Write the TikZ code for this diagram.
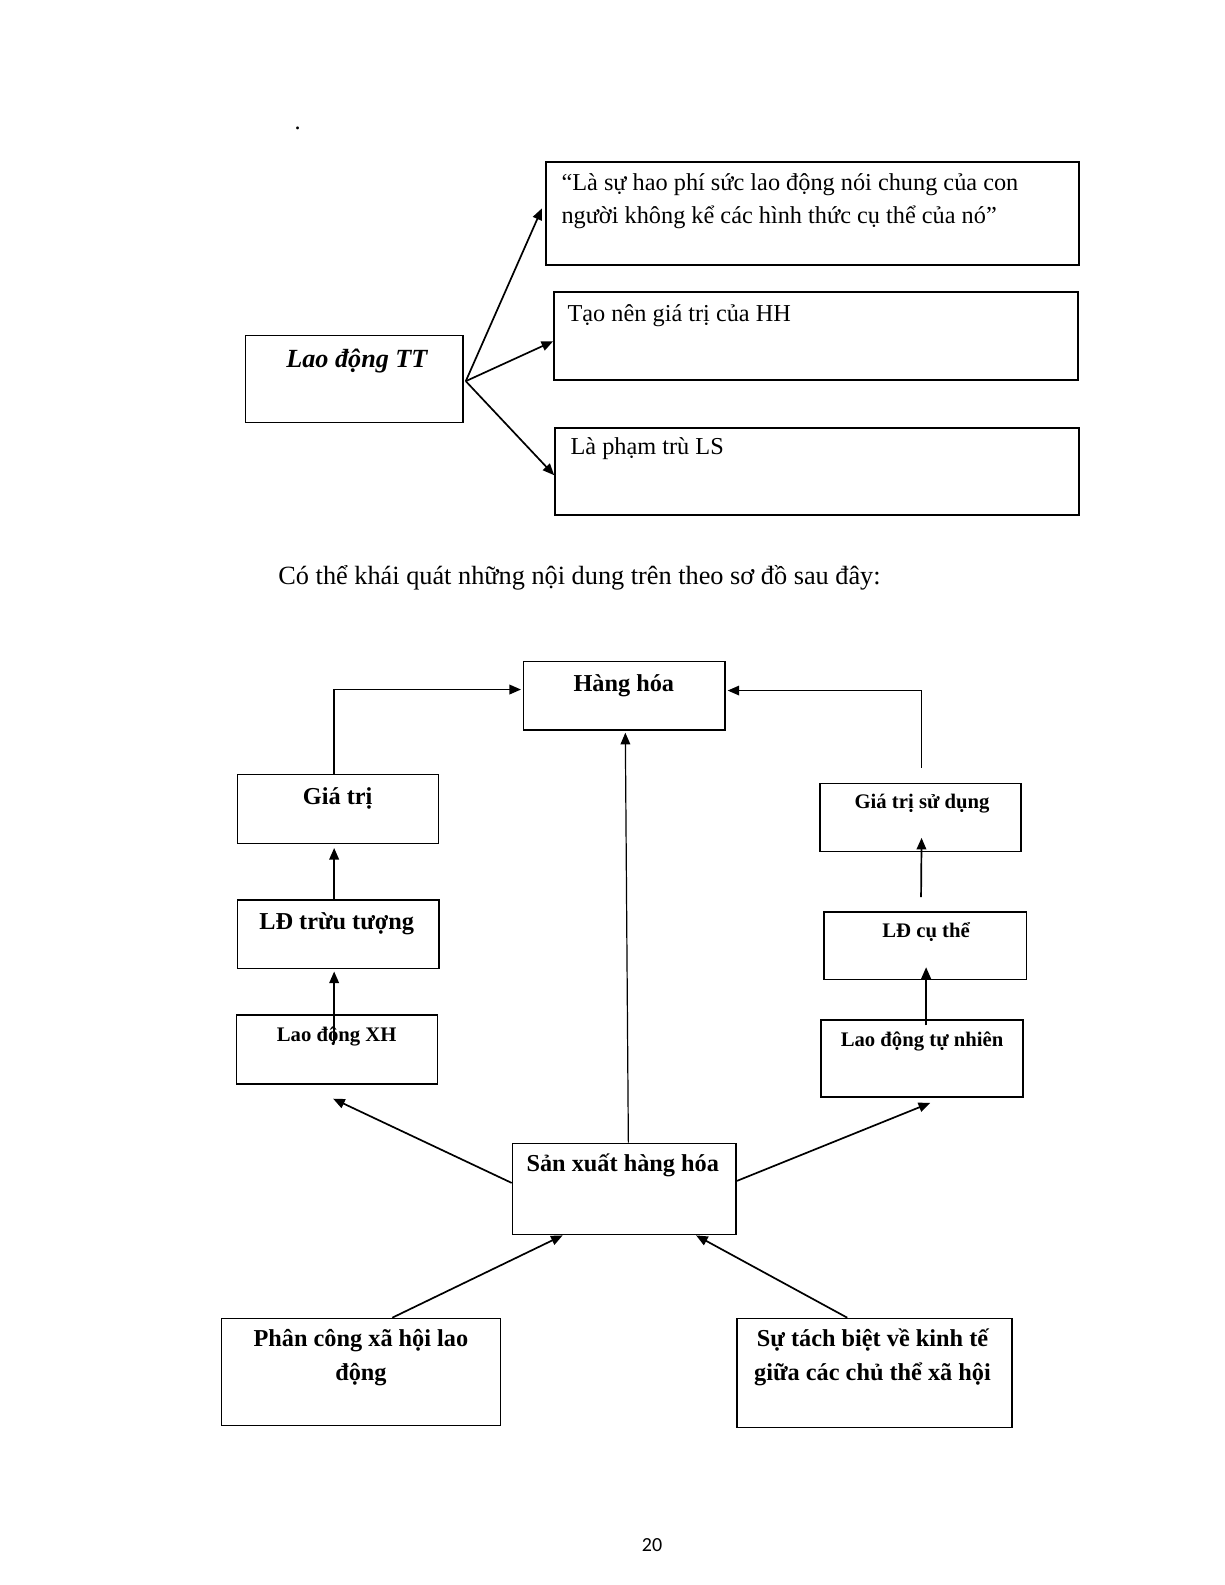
\documentclass[tikz,border=0pt]{standalone}
\usepackage{fontspec}
\setmainfont{Liberation Serif}
\newfontfamily\pagefont{Carlito}
\usetikzlibrary{arrows.meta,fit,calc}
\begin{document}
\begin{tikzpicture}[x=0.5056pt,y=-0.5056pt,
  box/.style={draw, line width=0.7pt, inner sep=0pt},
  tbox/.style={draw, line width=0.9pt, inner sep=0pt},
  arr/.style={-{Triangle[length=5.8pt,width=4.8pt]}, line width=0.85pt},
  tl/.style={font=\fontsize{12.15}{14}\selectfont, anchor=base west, inner sep=0pt},
  bt/.style={font=\bfseries\fontsize{12.15}{14}\selectfont, anchor=base, inner sep=0pt},
  bs/.style={font=\bfseries\fontsize{10.35}{12}\selectfont, anchor=base, inner sep=0pt}]
\useasboundingbox (0,0) rectangle (1211.6,1567.7);
% ---------- top part ----------
\node[tl] (dot) at (291,128) {.};
\node[tbox, fit={(540,160) (1067,262)}] (b1) {};
\node[tbox, fit={(548,289) (1066,376)}] (b2) {};
\node[tbox, fit={(549,423) (1067,509)}] (b3) {};
\node[box, fit={(243,332) (458,418)}] (ldtt) {};
\node[tl] (b1a) at (555,188) {“Là sự hao phí sức lao động nói chung của con};
\node[tl] (b1b) at (555,221) {người không kể các hình thức cụ thể của nó”};
\node[tl] (b2t) at (561,318) {Tạo nên giá trị của HH};
\node[tl] (b3t) at (564,450) {Là phạm trù LS};
\node[font=\bfseries\itshape\fontsize{13.1}{15}\selectfont, anchor=base, inner sep=0pt] (ldttt) at (353,363) {Lao động TT};
\coordinate (o) at ($(ldtt.east)+(2,2)$);
\coordinate (t1) at ($(b1.west)+(-3,-5)$);
\coordinate (t2) at ($(b2.west)+(0,5)$);
\coordinate (t3) at ($(b3.west)+(0,4)$);
\draw[arr] (o) -- (t1);
\draw[arr] (o) -- (t2);
\draw[arr] (o) -- (t3);
\node[font=\fontsize{13.15}{15}\selectfont, anchor=base west, inner sep=0pt] (intro) at (275,578) {Có thể khái quát những nội dung trên theo sơ đồ sau đây:};
% ---------- bottom diagram ----------
\node[box, fit={(518,654) (717,722)}] (hh) {};
\node[box, fit={(235,766) (434,834)}] (gt) {};
\node[tbox, fit={(235,890) (434,958)}] (ldtr) {};
\node[box, fit={(234,1004) (433,1072)}] (ldxh) {};
\node[box, fit={(811,775) (1010,842)}] (gtsd) {};
\node[box, fit={(815,902) (1015,969)}] (ldct) {};
\node[tbox, fit={(812,1009) (1012,1085)}] (ldtn) {};
\node[tbox, fit={(507,1131) (728,1221)}] (sx) {};
\node[box, fit={(219,1304) (495,1410)}] (pc) {};
\node[box, fit={(729,1304) (1001,1412)}] (stb) {};
\node[bt] at (617,684) {Hàng hóa};
\node[bt] at (334,796) {Giá trị};
\node[bt] at (333,919) {LĐ trừu tượng};
\node[bs] at (333,1030) {Lao động XH};
\node[bs] at (912,800) {Giá trị sử dụng};
\node[bs] at (916,927) {LĐ cụ thể};
\node[bs] at (912,1035) {Lao động tự nhiên};
\node[bt] at (616,1159) {Sản xuất hàng hóa};
\node[bt] at (357,1332) {Phân công xã hội lao};
\node[bt] at (357,1365) {động};
\node[bt] at (863,1332) {Sự tách biệt về kinh tế};
\node[bt] at (863,1365) {giữa các chủ thể xã hội};
% connectors
\coordinate (gtTop) at ($(gt.north)+(-4,0)$);
\coordinate (hhL) at ($(hh.west)+(-2,-6)$);
\draw[arr] (gtTop) |- (hhL);
\coordinate (gtsdTop) at ($(gtsd.north)+(1,-15)$);
\coordinate (hhR) at ($(hh.east)+(2,-5)$);
\draw[arr] (gtsdTop) |- (hhR);
\coordinate (sxTop) at ($(sx.north)+(4,0)$);
\coordinate (hhB) at ($(hh.south)+(1,2)$);
\draw[arr, line width=0.6pt] (sxTop) -- (hhB);
\coordinate (ldtrTop) at ($(ldtr.north)+(-4,0)$);
\coordinate (gtB) at ($(gt.south)+(-4,4)$);
\draw[arr] (ldtrTop) -- (gtB);
\coordinate (ldxhIn) at ($(ldxh.north)+(-3,28)$);
\coordinate (ldtrB) at ($(ldtr.south)+(-4,2)$);
\draw[arr] (ldxhIn) -- (ldtrB);
\coordinate (ldctUp) at ($(ldct.north)+(-4,-14)$);
\coordinate (gtsdIn) at ($(gtsd.south)+(1,-14)$);
\draw[arr] (ldctUp) -- (gtsdIn);
\coordinate (ldtnIn) at ($(ldtn.north)+(4,6)$);
\coordinate (ldctIn) at ($(ldct.south)+(1,-13)$);
\draw[arr] (ldtnIn) -- (ldctIn);
\coordinate (sxL) at ($(sx.west)+(0,-6)$);
\coordinate (ldxhB) at ($(ldxh.south)+(-4,14)$);
\draw[arr] (sxL) -- (ldxhB);
\coordinate (sxR) at ($(sx.east)+(0,-8)$);
\coordinate (ldtnB) at ($(ldtn.south)+(8,5)$);
\draw[arr] (sxR) -- (ldtnB);
\coordinate (pcTop) at ($(pc.north)+(31,0)$);
\coordinate (sxBL) at ($(sx.south)+(-61,0)$);
\draw[arr] (pcTop) -- (sxBL);
\coordinate (stbTop) at ($(stb.north)+(-27,0)$);
\coordinate (sxBR) at ($(sx.south)+(71,0)$);
\draw[arr] (stbTop) -- (sxBR);
\node[font=\pagefont\fontsize{10}{12}\selectfont, anchor=base, inner sep=0pt] (pg) at (645,1535) {20};
\end{tikzpicture}
\end{document}
